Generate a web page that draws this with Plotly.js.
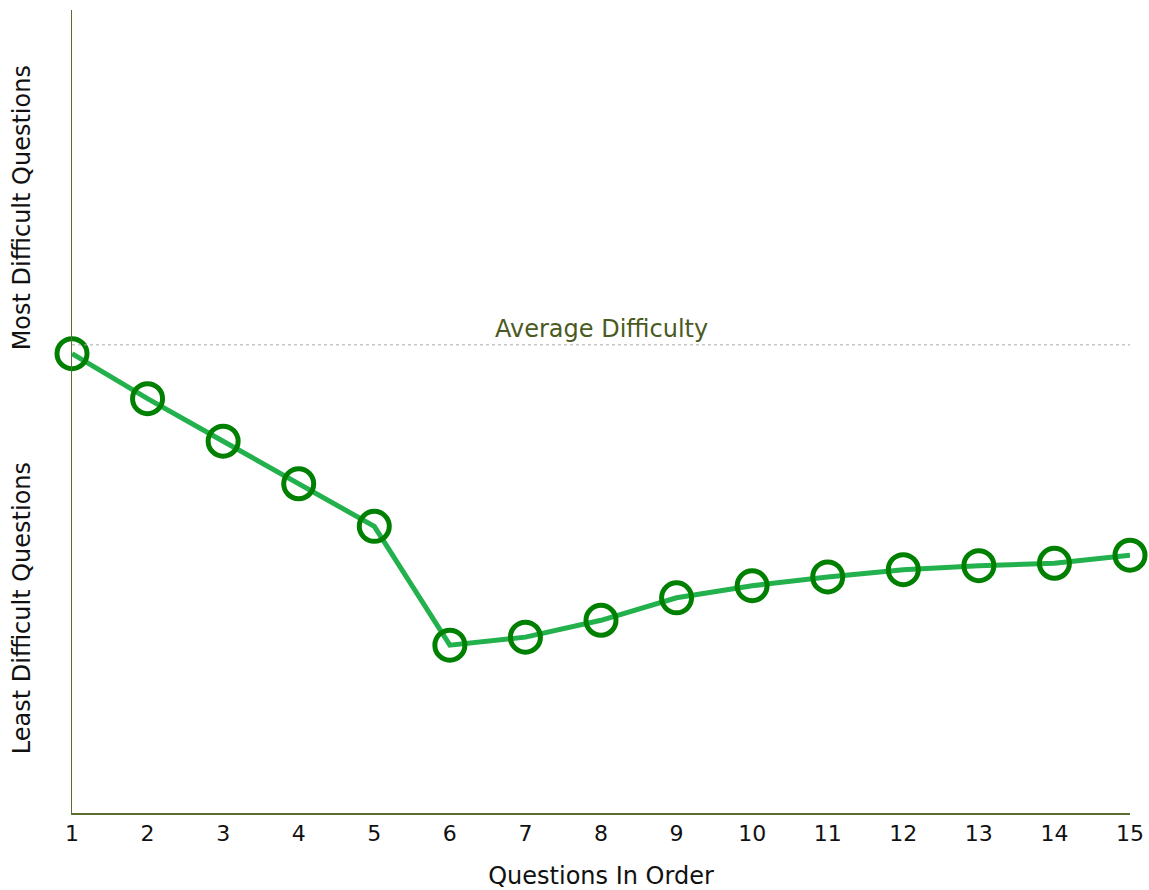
<!DOCTYPE html>
<html>
<head>
<meta charset="utf-8">
<script src="https://cdn.plot.ly/plotly-3.0.1.min.js"></script>
<style>html,body{margin:0;padding:0;background:#fff;}#chart{width:1149px;height:890px;}</style>
</head>
<body>
<div id="chart"></div>
<script>
const questions = [1,2,3,4,5,6,7,8,9,10,11,12,13,14,15];
const difficulty = [57.2,51.6,46.3,41.0,35.7,20.9,21.9,24.0,26.8,28.3,29.4,30.3,30.8,31.1,32.1];
const averageDifficulty = 58.3;
const xTitle = "Questions In Order";
const topLabel = "Most Difficult Questions";
const bottomLabel = "Least Difficult Questions";
const avgLabel = "Average Difficulty";

const font = "DejaVu Sans, Verdana, sans-serif";
const axisColor = "#5a6e30";

const trace = {
  x: questions, y: difficulty, type: "scatter", mode: "lines",
  line: {color: "#22b14c", width: 5},
  hoverinfo: "skip", cliponaxis: false
};
const markers = {
  x: questions, y: difficulty, type: "scatter", mode: "markers",
  marker: {symbol: "circle-open", size: 30, color: "#008000", line: {color: "#008000", width: 5}},
  cliponaxis: false
};

const layout = {
  width: 1149, height: 890,
  margin: {l: 72, r: 19, t: 10, b: 77},
  paper_bgcolor: "#fff", plot_bgcolor: "#fff",
  showlegend: false,
  font: {family: font, size: 22, color: "#111"},
  xaxis: {
    range: [1, 15], tickvals: questions, ticktext: questions.map(String),
    showgrid: false, zeroline: false, showline: true, linecolor: axisColor, linewidth: 1.5,
    ticks: "", ticklen: 0, tickfont: {family: font, size: 22, color: "#111"},
    title: {text: xTitle, font: {family: font, size: 24, color: "#111"}, standoff: 22}
  },
  yaxis: {
    range: [0, 100], showgrid: false, zeroline: false, showline: true,
    linecolor: axisColor, linewidth: 1, showticklabels: false, ticks: ""
  },
  shapes: [{
    type: "line", xref: "paper", x0: 0, x1: 1, yref: "y", y0: averageDifficulty, y1: averageDifficulty,
    line: {color: "#a8a8a8", width: 1, dash: "dot"}
  }],
  annotations: [
    {text: avgLabel, xref: "paper", x: 0.5, yref: "y", y: averageDifficulty, yanchor: "bottom", yshift: 0,
     showarrow: false, font: {family: font, size: 24, color: "#4b5a22"}},
    {text: topLabel, xref: "paper", x: 0, xanchor: "center", xshift: -50, yref: "paper", y: 0.753, yanchor: "middle",
     textangle: -90, showarrow: false, font: {family: font, size: 24, color: "#111"}},
    {text: bottomLabel, xref: "paper", x: 0, xanchor: "center", xshift: -50, yref: "paper", y: 0.255, yanchor: "middle",
     textangle: -90, showarrow: false, font: {family: font, size: 24, color: "#111"}}
  ]
};

Plotly.newPlot("chart", [trace, markers], layout, {displayModeBar: false, staticPlot: true});
</script>
</body>
</html>
